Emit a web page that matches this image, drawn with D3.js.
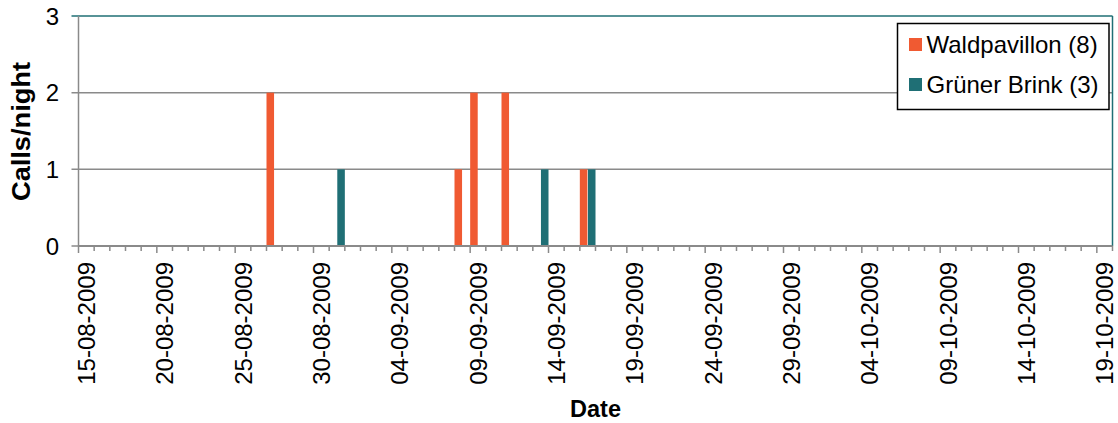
<!DOCTYPE html>
<html>
<head>
<meta charset="utf-8">
<script src="https://cdn.jsdelivr.net/npm/d3@7"></script>
<style>
  html, body { margin: 0; padding: 0; background: #ffffff; }
  svg { display: block; font-family: "Liberation Sans", Arial, sans-serif; }
</style>
</head>
<body>
<svg id="chart" width="1118" height="423"></svg>
<script>
// ---- data ----
const seriesNames = ["Waldpavillon (8)", "Grüner Brink (3)"];
const seriesColors = ["#F05A32", "#1F6F75"];
const waldDates = ["27-08-2009", "08-09-2009", "09-09-2009", "11-09-2009", "16-09-2009"];
const waldValues = [2, 1, 2, 2, 1];
const brinkDates = ["31-08-2009", "13-09-2009", "16-09-2009"];
const brinkValues = [1, 1, 1];
const xTickLabels = ["15-08-2009", "20-08-2009", "25-08-2009", "30-08-2009", "04-09-2009",
  "09-09-2009", "14-09-2009", "19-09-2009", "24-09-2009", "29-09-2009",
  "04-10-2009", "09-10-2009", "14-10-2009", "19-10-2009"];
const xDomain = ["15-08-2009", "21-10-2009"];
const yTicks = [0, 1, 2, 3];
const yMax = 3;
const xTitle = "Date";
const yTitle = "Calls/night";

// ---- layout ----
const parse = d3.utcParse("%d-%m-%Y");
const mLeft = 78.5, mRight = 1112.5, mTop = 16, mBottom = 246;
const svg = d3.select("#chart");

const x = d3.scaleUtc()
  .domain([parse(xDomain[0]), d3.utcDay.offset(parse(xDomain[1]), -1)])
  .range([mLeft, mRight]);
const y = d3.scaleLinear().domain([0, yMax]).range([mBottom, mTop]);
const dayW = x(d3.utcDay.offset(parse(xDomain[0]), 1)) - x(parse(xDomain[0]));
const inner = d3.scaleBand().domain(seriesNames).range([0, dayW]).paddingInner(0.07);

const gridColor = "#8A8A8A";
const borderColor = "#1F6F75";

// gridlines + y tick marks
svg.append("g").selectAll("line").data(yTicks.filter(v => v > 0 && v < yMax)).join("line")
  .attr("x1", mLeft - 7).attr("x2", mRight)
  .attr("y1", d => y(d)).attr("y2", d => y(d))
  .attr("stroke", gridColor).attr("stroke-width", 1.5);
svg.append("line").attr("x1", mLeft - 7).attr("x2", mLeft).attr("y1", y(0)).attr("y2", y(0))
  .attr("stroke", gridColor).attr("stroke-width", 1.5);

// plot border top/right (teal)
svg.append("line").attr("x1", mLeft - 7).attr("x2", mRight).attr("y1", y(yMax)).attr("y2", y(yMax))
  .attr("stroke", borderColor).attr("stroke-width", 1.5);
svg.append("line").attr("x1", mRight).attr("x2", mRight).attr("y1", y(yMax)).attr("y2", y(0))
  .attr("stroke", borderColor).attr("stroke-width", 1.5);

// y axis line
svg.append("line").attr("x1", mLeft).attr("x2", mLeft).attr("y1", y(yMax)).attr("y2", y(0))
  .attr("stroke", gridColor).attr("stroke-width", 1.5);

// bars
const series = [
  { name: seriesNames[0], color: seriesColors[0], data: waldDates.map((d, i) => ({ date: parse(d), v: waldValues[i] })) },
  { name: seriesNames[1], color: seriesColors[1], data: brinkDates.map((d, i) => ({ date: parse(d), v: brinkValues[i] })) }
];
series.forEach(s => {
  svg.append("g").selectAll("rect").data(s.data).join("rect")
    .attr("x", d => x(d.date) + inner(s.name))
    .attr("width", inner.bandwidth())
    .attr("y", d => y(d.v))
    .attr("height", d => y(0) - y(d.v))
    .attr("fill", s.color);
});

// x axis line
svg.append("line").attr("x1", mLeft).attr("x2", mRight).attr("y1", y(0)).attr("y2", y(0))
  .attr("stroke", gridColor).attr("stroke-width", 2);

// x ticks: minor every day, major at labels
const allDays = d3.utcDay.range(parse(xDomain[0]), parse(xDomain[1]));
const majorDates = xTickLabels.map(parse);
const majorSet = new Set(majorDates.map(d => +d));
svg.append("g").selectAll("line").data(allDays).join("line")
  .attr("x1", d => x(d)).attr("x2", d => x(d))
  .attr("y1", y(0)).attr("y2", d => y(0) + (majorSet.has(+d) ? 7 : 5))
  .attr("stroke", gridColor).attr("stroke-width", 1.5);

// x tick labels
svg.append("g").selectAll("text").data(xTickLabels).join("text")
  .attr("transform", d => `translate(${x(parse(d)) + dayW / 2},262) rotate(-90)`)
  .attr("text-anchor", "end").attr("dy", "0.36em")
  .attr("font-size", 24).attr("fill", "#000")
  .text(d => d);

// y tick labels
svg.append("g").selectAll("text").data(yTicks).join("text")
  .attr("x", 59).attr("y", d => y(d)).attr("dy", "0.36em")
  .attr("text-anchor", "end").attr("font-size", 24).attr("fill", "#000")
  .text(d => d);

// axis titles
svg.append("text").attr("x", (mLeft + mRight) / 2).attr("y", 416.5)
  .attr("text-anchor", "middle").attr("font-size", 23.5).attr("font-weight", "bold")
  .text(xTitle);
svg.append("text").attr("transform", `translate(29.5,${(mTop + mBottom) / 2 + 0.5}) rotate(-90)`)
  .attr("text-anchor", "middle").attr("font-size", 25).attr("font-weight", "bold")
  .attr("textLength", 139).attr("lengthAdjust", "spacingAndGlyphs")
  .text(yTitle);

// legend
const lg = svg.append("g");
lg.append("rect").attr("x", 897.5).attr("y", 23.5).attr("width", 211.5).attr("height", 86)
  .attr("fill", "#fff").attr("stroke", "#000").attr("stroke-width", 1.5);
series.forEach((s, i) => {
  const cy = 44.5 + i * 40;
  lg.append("rect").attr("x", 909).attr("y", cy - 6.5).attr("width", 13).attr("height", 13).attr("fill", s.color);
  lg.append("text").attr("x", 926.5).attr("y", cy).attr("dy", "0.36em")
    .attr("font-size", 24).attr("fill", "#000").text(s.name);
});
</script>
</body>
</html>
